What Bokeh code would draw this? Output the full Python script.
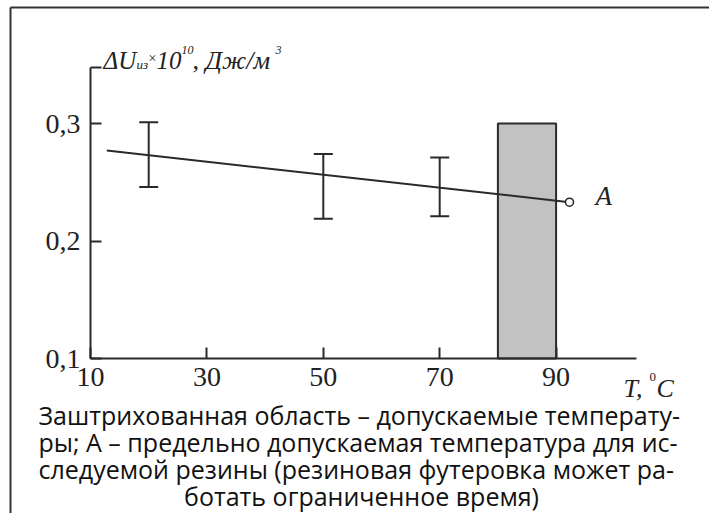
from bokeh.plotting import figure
from bokeh.models import Range1d, FixedTicker, Label, Whisker, TeeHead, ColumnDataSource
from bokeh.embed import file_html
from bokeh.resources import INLINE

# ---- data ----
temps = [20, 50, 70]                 # T, °C of the measured points
u_hi = [0.301, 0.274, 0.271]         # upper end of error bars
u_lo = [0.246, 0.219, 0.221]         # lower end of error bars
line_t = [12.8, 92.3]                # trend line, T
line_u = [0.277, 0.233]              # trend line, ΔU
zone_left = [80]                     # allowed-temperature zone
zone_right = [90]
zone_top = [0.300]
x_ticks = [10, 30, 50, 70, 90]
y_ticks = [0.1, 0.2, 0.3, 0.348]
y_tick_labels = {0.1: "0,1", 0.2: "0,2", 0.3: "0,3", 0.348: ""}
caption = [
    "Заштрихованная область – допускаемые температу-",
    "ры; А – предельно допускаемая температура для ис-",
    "следуемой резины (резиновая футеровка может ра-",
    "ботать ограниченное время)",
]

# axis extents and pixel layout of the chart on the page
X0, X1 = 10, 103.8
Y0, Y1 = 0.1, 0.348
W, H = 709, 513
AX_L, AX_B = 90, 358          # page px of the axes' origin
PX_PER_X = 5.82               # px per °C
PX_PER_Y = 1175.0             # px per unit of ΔU

def X(px):
    return X0 + (px - AX_L) / PX_PER_X

def Y(py):
    return Y0 + (AX_B - py) / PX_PER_Y

p = figure(width=W, height=H, output_backend="svg", toolbar_location=None,
           x_range=Range1d(X(0), X(W)), y_range=Range1d(Y(H), Y(0)),
           min_border=0, min_border_left=0, min_border_right=0,
           min_border_top=0, min_border_bottom=0)
p.outline_line_color = None
p.grid.visible = False
p.background_fill_color = "white"
p.border_fill_color = "white"

INK = "#2a2a2a"
for ax in (p.xaxis[0], p.yaxis[0]):
    ax.axis_line_color = INK
    ax.axis_line_width = 2
    ax.major_tick_line_color = INK
    ax.major_tick_line_width = 2
    ax.major_tick_in = 11
    ax.major_tick_out = 0
    ax.minor_tick_line_color = None
    ax.major_label_text_font = "Liberation Serif"
    ax.major_label_text_font_size = "28px"
    ax.major_label_text_color = "#222222"

p.xaxis[0].ticker = FixedTicker(ticks=x_ticks)
p.xaxis[0].fixed_location = Y0
p.xaxis[0].bounds = (X0, X1)
p.xaxis[0].major_label_standoff = 9
p.yaxis[0].ticker = FixedTicker(ticks=y_ticks)
p.yaxis[0].fixed_location = X0
p.yaxis[0].bounds = (Y0, Y1)
p.yaxis[0].major_label_overrides = y_tick_labels
p.yaxis[0].major_label_standoff = 10

# shaded zone
p.quad(left=zone_left, right=zone_right, bottom=[Y0], top=zone_top,
       fill_color="#c2c2c2", line_color=INK, line_width=2)

# trend line and end marker A
p.line(line_t, line_u, line_color=INK, line_width=2)
p.scatter([line_t[-1]], [line_u[-1]], marker="circle", size=8,
          fill_color="white", line_color=INK, line_width=1.6)

# error bars
src = ColumnDataSource(dict(t=temps, hi=u_hi, lo=u_lo))
p.add_layout(Whisker(base="t", upper="hi", lower="lo", source=src,
                     line_color=INK, line_width=2,
                     upper_head=TeeHead(size=19, line_color=INK, line_width=2),
                     lower_head=TeeHead(size=19, line_color=INK, line_width=2)))

def lab(px, py, text, size, font="Liberation Serif", style="italic", align="left",
        color="#222222"):
    p.add_layout(Label(x=X(px), y=Y(py), text=text, text_font=font,
                       text_font_size=f"{size}px", text_font_style=style,
                       text_align=align, text_baseline="alphabetic",
                       text_color=color))

# y axis title: ΔU_из ×10^10, Дж/м^3
lab(103, 60, "ΔU", 25)
lab(136, 64, "из", 13)
lab(148, 58, "×", 14, style="normal")
lab(156, 60, "10", 25)
lab(181, 49, "10", 12)
lab(192, 60, ", Дж/м", 26)
lab(275, 49, "3", 12)
# x axis title: T, °C
lab(623, 388, "T,", 26)
lab(649, 376, "0", 13, style="normal")
lab(656, 388, "C", 26)
# point A
lab(595, 195, "A", 27)

# caption
for i, line in enumerate(caption[:3]):
    lab(38, 414 + i * 27.3, line, 25, font="Open Sans", style="normal", color="#111111")
lab(361, 414 + 3 * 27.3, caption[3], 25, font="Open Sans", style="normal",
    align="center", color="#111111")

# frame lines of the scanned page
p.segment(x0=[X(10), X(10)], y0=[Y(7), Y(7)], x1=[X(W + 5), X(10)], y1=[Y(7), Y(H + 5)],
          line_color="#333333", line_width=2)

open("out.html", "w").write(file_html(p, INLINE))
